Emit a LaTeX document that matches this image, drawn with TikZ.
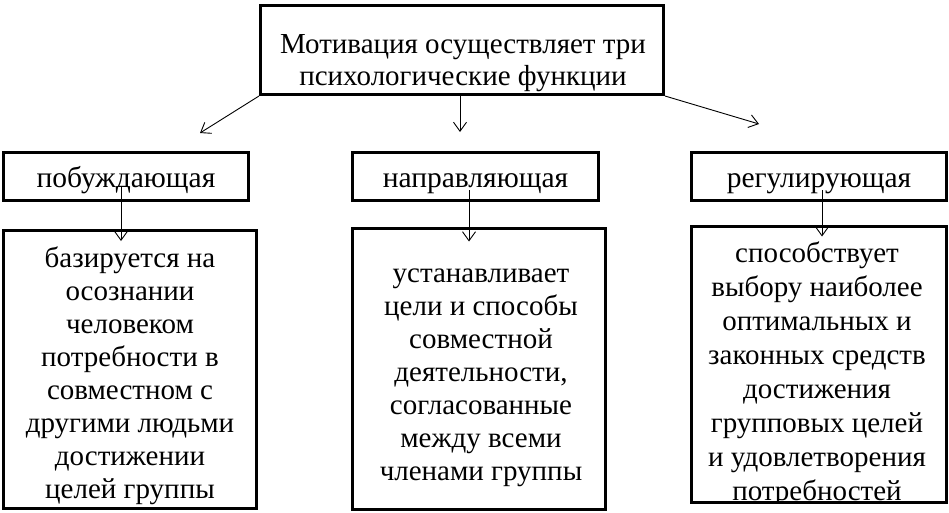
\documentclass[tikz,border=0pt]{standalone}
\usepackage{fontspec}
\setmainfont{Liberation Serif}
\usetikzlibrary{arrows.meta,calc}
\newcommand\fstr{\rule{0pt}{22pt}}
\begin{document}
\begin{tikzpicture}[x=1pt,y=-1pt,
  frame/.style={draw,line width=3pt,inner sep=0pt,minimum width=#1},
  l2box/.style={frame=#1,minimum height=48pt,text height=22pt,text depth=0pt,
    font=\fontsize{29.5}{33}\selectfont},
  txt/.style={inner sep=0pt,align=center,anchor=north,font=\fontsize{29}{33}\selectfont},
  arr/.style={line width=0.9pt,-{Straight Barb[length=9pt,width=13pt,line width=0.9pt]}}]
\useasboundingbox (0,0) rectangle (949,512);
% top box
\node[frame=403pt,minimum height=89pt] (top) at (462,50) {};
\node[txt,font=\fontsize{29}{32}\selectfont] (toptxt) at (463,31) {\fstr Мотивация осуществляет три\\психологические функции};
% level 2
\node[l2box=245pt] (b1) at (126,176.5) {побуждающая};
\node[l2box=246pt] (b2) at (475.5,176.5) {направляющая};
\node[l2box=255pt] (b3) at (819,176.5) {регулирующая};
% bottom boxes
\node[frame=253pt,minimum height=278pt] (d1) at (130,369.5) {};
\node[frame=253pt,minimum height=281pt] (d2) at (479,369) {};
\node[frame=255pt,minimum height=276pt] (d3) at (819,364.5) {};
\node[txt] (d1txt) at (130,245) {\fstr базируется на\\осознании\\человеком\\потребности в\\совместном с\\другими людьми\\достижении\\целей группы};
\node[txt] (d2txt) at (481,260) {\fstr устанавливает\\цели и способы\\совместной\\деятельности,\\согласованные\\между всеми\\членами группы};
\begin{scope}
\clip ($(d3.south west)+(1.5,-1.5)$) rectangle ($(d3.north east)+(-1.5,1.5)$);
\node[txt,font=\fontsize{29}{34}\selectfont] (d3txt) at (817,240) {\fstr способствует\\выбору наиболее\\оптимальных и\\законных средств\\достижения\\групповых целей\\и удовлетворения\\потребностей};
\end{scope}
% arrows from top
\coordinate (t1) at (200,133);
\coordinate (t2) at (460,132);
\coordinate (t3) at (759,124);
\draw[arr] (top.south west) -- (t1);
\draw[arr] ($(top.south)+(-2,0)$) -- (t2);
\draw[arr] (top.south east) -- (t3);
% arrows level 2 -> bottom
\draw[arr] ($(b1.center)+(-5,10.5)$) -- ($(d1.north)+(-9,12)$);
\draw[arr] ($(b2.center)+(-6.5,13.5)$) -- ($(d2.north)+(-10,14.5)$);
\draw[arr] ($(b3.center)+(3,13.5)$) -- ($(d3.north)+(3,11.5)$);
\end{tikzpicture}
\end{document}
